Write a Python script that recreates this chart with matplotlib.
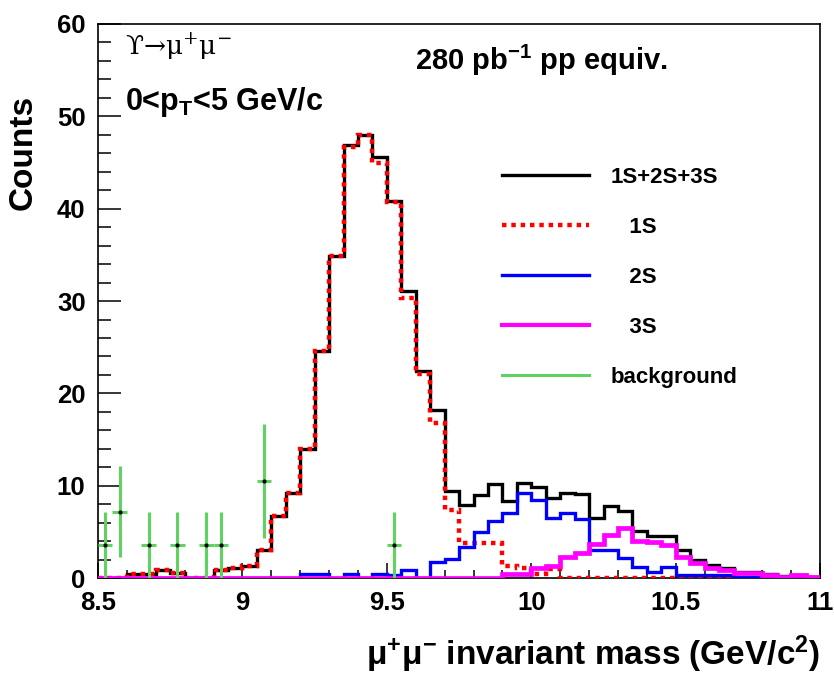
import numpy as np
import matplotlib.pyplot as plt
from matplotlib.lines import Line2D
from matplotlib.ticker import MultipleLocator, FormatStrFormatter

plt.rcParams['mathtext.default'] = 'regular'

NARROW = ['Liberation Sans Narrow', 'Liberation Sans']

# binning of the dimuon mass histograms (GeV/c^2)
mass_lo, mass_hi, n_bins = 8.5, 11.0, 50
edges = np.linspace(mass_lo, mass_hi, n_bins + 1)

# counts per bin
total = [0, 0, 0.5, 0.5, 0.87, 0.55, 0, 0, 0.85, 1.15,
         1.3, 3.0, 6.7, 9.25, 14.0, 24.6, 34.9, 46.9, 48.0, 45.6,
         40.8, 31.1, 22.45, 18.2, 9.45, 7.9, 9.0, 10.15, 8.35, 10.3,
         9.85, 8.65, 9.25, 9.1, 6.5, 7.8, 7.3, 5.05, 4.55, 4.55,
         3.05, 2.0, 1.45, 1.1, 0.7, 0.7, 0.4, 0.2, 0.3, 0.1]
ups1s = [0, 0, 0.5, 0.5, 0.87, 0.55, 0, 0, 0.85, 1.15,
         1.3, 3.0, 6.7, 9.25, 14.0, 24.6, 34.9, 46.7, 48.0, 45.0,
         40.7, 30.3, 22.1, 16.8, 7.4, 3.8, 3.8, 3.8, 1.3, 1.1,
         0.4, 0.95, 0, 0, 0, 0, 0, 0, 0, 0,
         0, 0, 0, 0, 0, 0, 0, 0, 0, 0]
ups2s = [0, 0, 0, 0, 0, 0, 0, 0, 0, 0,
         0, 0, 0, 0, 0.4, 0.4, 0, 0.4, 0, 0.4,
         0.35, 0.9, 0, 1.7, 2.05, 3.35, 5.0, 6.15, 7.0, 9.25,
         8.45, 6.5, 7.0, 6.45, 3.1, 3.1, 2.15, 1.2, 0.65, 1.2,
         0.35, 0.35, 0.35, 0.35, 0.15, 0.15, 0.05, 0.05, 0.1, 0]
ups3s = [0, 0, 0, 0, 0, 0, 0, 0, 0, 0,
         0, 0, 0, 0, 0, 0, 0, 0, 0, 0,
         0, 0, 0, 0, 0, 0, 0, 0, 0.5, 0.5,
         1.1, 1.35, 2.3, 2.75, 3.65, 4.7, 5.4, 4.05, 3.9, 3.55,
         2.3, 1.6, 1.1, 0.85, 0.6, 0.6, 0.3, 0.15, 0.3, 0.1]

# background points with errors
bkg_mass = [8.525, 8.575, 8.675, 8.775, 8.875, 8.925, 9.075, 9.525]
bkg_counts = [3.6, 7.2, 3.6, 3.6, 3.6, 3.6, 10.5, 3.6]
bkg_err = [3.6, 4.9, 3.6, 3.6, 3.6, 3.6, 6.2, 3.6]
bkg_halfwidth = 0.025

green = '#5fd35f'
red_dots = (0, (1, 1.1))

fig = plt.figure(figsize=(8.34, 6.85), dpi=100)
ax = fig.add_axes([0.1175, 0.156, 0.866, 0.809])

ax.stairs(total, edges, color='black', linewidth=2.4, zorder=2)
ax.stairs(ups1s, edges, color='red', linewidth=3.2, linestyle=red_dots, zorder=3)
ax.stairs(ups2s, edges, color='blue', linewidth=2.4, zorder=4)
ax.stairs(ups3s, edges, color='magenta', linewidth=3.4, zorder=5)
ax.errorbar(bkg_mass, bkg_counts, yerr=bkg_err, xerr=bkg_halfwidth,
            fmt='o', ms=2, color='black', ecolor=green, elinewidth=2.2,
            capsize=0, zorder=6)

ax.set_xlim(mass_lo, mass_hi)
ax.set_ylim(0, 60)

ax.xaxis.set_major_locator(MultipleLocator(0.5))
ax.xaxis.set_minor_locator(MultipleLocator(0.1))
ax.yaxis.set_major_locator(MultipleLocator(10))
ax.yaxis.set_minor_locator(MultipleLocator(2))
ax.xaxis.set_major_formatter(FormatStrFormatter('%g'))
ax.tick_params(axis='both', which='both', direction='in', width=1.1,
               top=False, right=False)
ax.tick_params(axis='x', which='major', length=10.8, pad=9)
ax.tick_params(axis='x', which='minor', length=5.8)
ax.tick_params(axis='y', which='major', length=16.6, pad=9)
ax.tick_params(axis='y', which='minor', length=9.4)
for lab in ax.get_xticklabels() + ax.get_yticklabels():
    lab.set_fontfamily(NARROW)
    lab.set_fontweight('bold')
    lab.set_fontsize(18.5)
for sp in ax.spines.values():
    sp.set_linewidth(1.2)

ax.set_xlabel(r'μ$^{+}$μ$^{-}$ invariant mass (GeV/c$^{2}$)', loc='right',
              fontsize=24, fontweight='bold', fontfamily=NARROW)
ax.xaxis.set_label_coords(1.0, -0.1)
ax.set_ylabel('Counts', loc='top', fontsize=24, fontweight='bold',
              fontfamily=['Liberation Sans'])
ax.yaxis.set_label_coords(-0.082, 0.872)

ax.text(0.037, 0.944, r'ϒ→μ$^{+}$μ$^{-}$', transform=ax.transAxes,
        fontsize=19, fontfamily=['DejaVu Serif'],
        ha='left', va='baseline')
ax.text(0.037, 0.845, r'0<p$_{T}$<5 GeV/c', transform=ax.transAxes,
        fontsize=22, fontweight='bold', fontfamily=NARROW,
        ha='left', va='baseline')
ax.text(0.439, 0.917, r'280 pb$^{-1}$ pp equiv.', transform=ax.transAxes,
        fontsize=21, fontweight='bold', fontfamily=NARROW,
        ha='left', va='baseline')

handles = [
    Line2D([], [], color='black', linewidth=2.4),
    Line2D([], [], color='red', linewidth=3.2, linestyle=red_dots),
    Line2D([], [], color='blue', linewidth=2.4),
    Line2D([], [], color='magenta', linewidth=3),
    Line2D([], [], color=green, linewidth=2.2),
]
labels = ['1S+2S+3S', '   1S', '   2S', '   3S', 'background']
ax.legend(handles, labels, loc='upper left', bbox_to_anchor=(0.5596, 0.742),
          frameon=False, borderpad=0, borderaxespad=0, handlelength=3.9,
          handletextpad=1.0, labelspacing=1.3,
          prop={'family': NARROW, 'weight': 'bold', 'size': 16})

fig.savefig('out.png', dpi=100)
